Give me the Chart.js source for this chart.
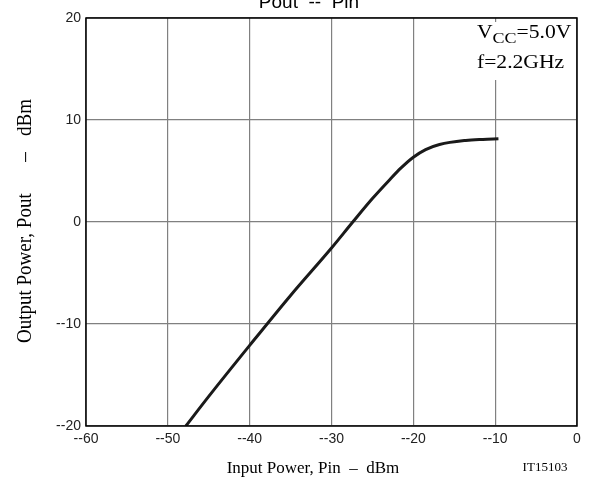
<!DOCTYPE html>
<html>
<head>
<meta charset="utf-8">
<script src="https://cdn.jsdelivr.net/npm/chart.js@4/dist/chart.umd.min.js"></script>
<style>
  html, body { margin: 0; padding: 0; background: #fff; }
  #wrap { width: 590px; height: 479px; position: relative; }
</style>
</head>
<body>
<div id="wrap"><canvas id="c" width="590" height="479"></canvas></div>
<script>
// Pout -- Pin, Vcc=5.0V, f=2.2GHz
const pinValues = [-47.8, -45, -40, -35, -30, -27.4, -25, -23, -21.5, -20, -18.5, -16.8, -13.6, -11.5, -9.6];
const poutValues = [-20, -17.1, -12.1, -7.2, -2.55, 0, 2.3, 4.05, 5.3, 6.35, 7.1, 7.6, 8.0, 8.1, 8.15];
const xTicks = [-60, -50, -40, -30, -20, -10, 0];
const yTicks = [-20, -10, 0, 10, 20];

const tickFont = { family: "'Liberation Sans', Arial, sans-serif", size: 14 };
const serif = "'Liberation Serif', 'Times New Roman', serif";

function dashLabel(v) {
  return v < 0 ? "--" + Math.abs(v) : String(v);
}

// title, axis titles, annotation and the black frame
const decorPlugin = {
  id: "decor",
  afterDraw(chart) {
    const ctx = chart.ctx;
    const a = chart.chartArea;
    ctx.save();

    // white patch behind the condition text (hides the -10 gridline there)
    ctx.fillStyle = "#fff";
    ctx.fillRect(474, 22, 100, 58);

    ctx.strokeStyle = "#000";
    ctx.lineWidth = 1.5;
    ctx.strokeRect(a.left, a.top, a.right - a.left, a.bottom - a.top);

    ctx.fillStyle = "#000";
    ctx.font = "19px 'Liberation Sans', Arial, sans-serif";
    ctx.textAlign = "center";
    ctx.textBaseline = "alphabetic";
    ctx.fillText("Pout  --  Pin", 309, 8);

    ctx.font = "17px " + serif;
    ctx.fillText("Input Power, Pin  \u2013  dBm", 313, 473);

    ctx.font = "13px " + serif;
    ctx.fillText("IT15103", 545, 471);

    // y title, rotated; glyphs are a little taller than wide in the source
    ctx.save();
    ctx.translate(31, 0);
    ctx.rotate(-Math.PI / 2);
    ctx.scale(1, 1.15);
    ctx.font = "19px " + serif;
    ctx.textAlign = "left";
    ctx.fillText("Output Power, Pout", -343, 0);
    ctx.textAlign = "center";
    ctx.fillText("\u2013", -157, 0);
    ctx.textAlign = "right";
    ctx.fillText("dBm", -99, 0);
    ctx.restore();

    // Vcc=5.0V with subscript, f=2.2GHz (text is a bit wide in the source)
    ctx.save();
    ctx.translate(477, 0);
    ctx.scale(1.2, 1);
    ctx.textAlign = "left";
    ctx.font = "18px " + serif;
    let x = 0;
    ctx.fillText("V", x, 38);
    x += ctx.measureText("V").width;
    ctx.font = "15px " + serif;
    ctx.fillText("CC", x, 43);
    x += ctx.measureText("CC").width;
    ctx.font = "18px " + serif;
    ctx.fillText("=5.0V", x, 38);
    ctx.fillText("f=2.2GHz", 0, 68);
    ctx.restore();

    ctx.restore();
  }
};

new Chart(document.getElementById("c"), {
  type: "scatter",
  data: {
    datasets: [
      {
        data: pinValues.map((p, i) => ({ x: p, y: poutValues[i] })),
        showLine: true,
        borderColor: "#1a1a1a",
        borderWidth: 3,
        pointRadius: 0,
        cubicInterpolationMode: "monotone",
        fill: false,
      },
    ],
  },
  options: {
    responsive: false,
    animation: false,
    devicePixelRatio: 1,
    layout: { padding: { top: 18, right: 13, left: 0, bottom: 0 } },
    plugins: {
      legend: { display: false },
      tooltip: { enabled: false },
    },
    scales: {
      x: {
        type: "linear",
        min: -60,
        max: 0,
        afterBuildTicks: (scale) => { scale.ticks = xTicks.map((v) => ({ value: v })); },
        afterFit: (scale) => { scale.height = 53; },
        grid: { color: "#808080", lineWidth: 1.2, drawTicks: false },
        border: { display: false },
        ticks: { font: tickFont, color: "#222", padding: 5, maxRotation: 0, callback: dashLabel },
      },
      y: {
        type: "linear",
        min: -20,
        max: 20,
        afterBuildTicks: (scale) => { scale.ticks = yTicks.map((v) => ({ value: v })); },
        afterFit: (scale) => { scale.width = 86; },
        grid: { color: "#808080", lineWidth: 1.2, drawTicks: false },
        border: { display: false },
        ticks: { font: tickFont, color: "#222", padding: 5, callback: dashLabel },
      },
    },
  },
  plugins: [decorPlugin],
});
</script>
</body>
</html>
